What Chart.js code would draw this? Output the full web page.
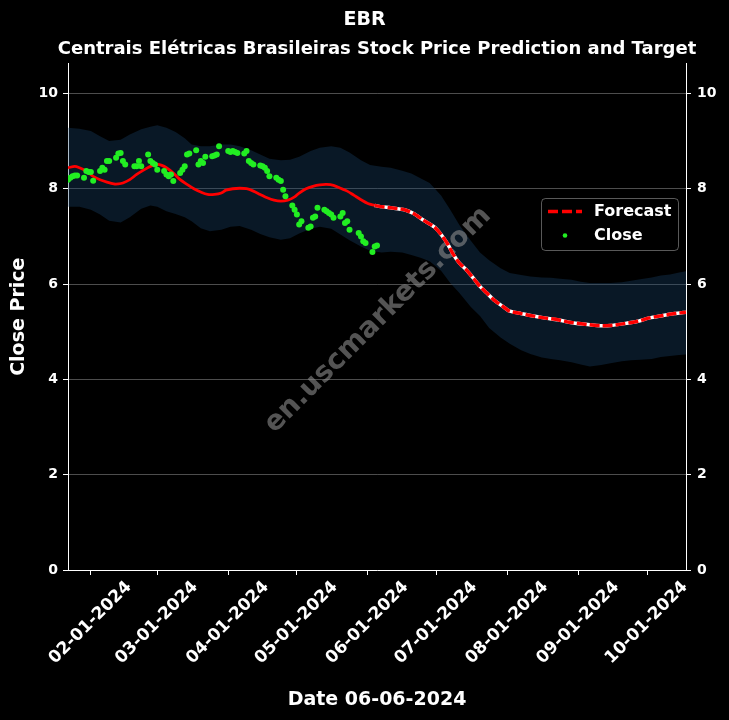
<!DOCTYPE html>
<html>
<head>
<meta charset="utf-8">
<script src="https://cdn.jsdelivr.net/npm/chart.js@4.4.1/dist/chart.umd.min.js"></script>
<style>
  html, body { margin: 0; padding: 0; background: #000; }
</style>
</head>
<body>
<canvas id="chart" width="729" height="720"></canvas>
<script>
// x axis tick labels (first of each month)
const monthTicks = ['02-01-2024', '03-01-2024', '04-01-2024', '05-01-2024', '06-01-2024',
                    '07-01-2024', '08-01-2024', '09-01-2024', '10-01-2024'];

// trading days of the close series
const firstClose = '2024-01-22';
const lastClose = '2024-06-05';
const holidays = ['2024-02-19', '2024-03-29', '2024-05-27'];

// daily close prices (one per trading day)
const closeValues = [
  8.19, 8.23, 8.26, 8.28, 8.28, 8.23, 8.37, 8.35, 8.35, 8.17,
  8.37, 8.44, 8.40, 8.58, 8.58, 8.65, 8.74, 8.75, 8.58, 8.51,
  8.47, 8.47, 8.58, 8.47, 8.72, 8.58, 8.54, 8.51, 8.40, 8.37,
  8.30, 8.26, 8.30, 8.16, 8.33, 8.40, 8.47, 8.72, 8.74, 8.81,
  8.51, 8.58, 8.54, 8.67, 8.68, 8.70, 8.72, 8.89, 8.79, 8.77,
  8.79, 8.77, 8.75, 8.74, 8.79, 8.58, 8.54, 8.51, 8.49, 8.47,
  8.44, 8.37, 8.26, 8.23, 8.19, 8.16, 7.98, 7.84, 7.65, 7.56,
  7.46, 7.25, 7.32, 7.18, 7.21, 7.39, 7.42, 7.60, 7.56, 7.53,
  7.49, 7.46, 7.39, 7.42, 7.49, 7.28, 7.32, 7.14, 7.07, 7.00,
  6.90, 6.86, 6.67, 6.79, 6.81
];

// model fit over the history (day of year, 0 = Jan 1)
const fitDays = [21, 24, 26, 29, 32, 35, 38, 41, 43, 45, 48, 51, 54, 57, 60, 62, 64, 67, 70, 73,
                 76, 79, 82, 85, 88, 90, 93, 96, 99, 102, 105, 108, 111, 114, 117, 120, 122, 125,
                 128, 131, 134, 137, 140, 143, 146, 149, 152, 155];
const fitValues = [8.44, 8.47, 8.44, 8.37, 8.26, 8.19, 8.14, 8.10, 8.10, 8.12, 8.19, 8.30, 8.39, 8.47,
                   8.51, 8.49, 8.44, 8.33, 8.19, 8.09, 8.00, 7.93, 7.88, 7.88, 7.91, 7.97, 8.00, 8.01,
                   8.00, 7.95, 7.88, 7.81, 7.76, 7.74, 7.76, 7.83, 7.91, 8.00, 8.05, 8.08, 8.09, 8.07,
                   8.01, 7.95, 7.86, 7.77, 7.69, 7.65];

// forecast
const forecastDays = [155, 157, 162, 168, 172, 176, 181, 184, 187, 189, 192, 195, 198, 201, 204, 207,
                      211, 214, 219, 223, 229, 235, 240, 246, 252, 258, 264, 270, 275, 281, 286, 291];
const forecastValues = [7.65, 7.63, 7.60, 7.56, 7.48, 7.35, 7.20, 7.04, 6.83, 6.65, 6.44, 6.30, 6.13,
                        5.95, 5.81, 5.67, 5.53, 5.43, 5.38, 5.34, 5.29, 5.25, 5.20, 5.16, 5.13, 5.13,
                        5.17, 5.22, 5.29, 5.34, 5.38, 5.41];

// uncertainty band
const bandDays = [21, 26, 31, 35, 39, 44, 48, 53, 57, 60, 64, 68, 72, 75, 79, 83, 88, 92, 96, 101,
                  105, 109, 114, 118, 122, 127, 131, 136, 140, 144, 149, 153, 158, 162, 167, 171,
                  175, 179, 184, 188, 192, 197, 201, 205, 210, 214, 219, 223, 228, 232, 236, 241,
                  245, 249, 254, 258, 263, 267, 271, 276, 280, 284, 288, 291];
const bandUpper = [9.28, 9.26, 9.21, 9.10, 9.00, 9.03, 9.14, 9.25, 9.30, 9.33, 9.28, 9.19, 9.06, 8.93,
                   8.89, 8.89, 8.93, 8.93, 8.89, 8.81, 8.72, 8.63, 8.60, 8.61, 8.67, 8.79, 8.86, 8.89,
                   8.86, 8.76, 8.60, 8.50, 8.46, 8.44, 8.38, 8.32, 8.22, 8.12, 7.86, 7.56, 7.24, 6.91,
                   6.66, 6.50, 6.33, 6.23, 6.19, 6.16, 6.14, 6.13, 6.11, 6.09, 6.05, 6.02, 6.02, 6.02,
                   6.04, 6.07, 6.10, 6.14, 6.18, 6.20, 6.24, 6.27];
const bandLower = [7.62, 7.62, 7.56, 7.46, 7.33, 7.29, 7.40, 7.58, 7.65, 7.62, 7.53, 7.47, 7.40, 7.32,
                   7.17, 7.11, 7.14, 7.20, 7.22, 7.14, 7.05, 6.98, 6.93, 6.96, 7.06, 7.16, 7.20, 7.16,
                   7.04, 6.92, 6.79, 6.70, 6.66, 6.68, 6.66, 6.61, 6.55, 6.48, 6.28, 6.02, 5.81, 5.52,
                   5.33, 5.08, 4.88, 4.75, 4.61, 4.53, 4.46, 4.43, 4.40, 4.36, 4.31, 4.27, 4.30, 4.34,
                   4.38, 4.40, 4.41, 4.43, 4.47, 4.49, 4.51, 4.52];

const yTicks = [0, 2, 4, 6, 8, 10];

const subtitleText = 'Centrais Elétricas Brasileiras Stock Price Prediction and Target';

// helpers
const toDay = (y, m, d) => (Date.UTC(y, m - 1, d) - Date.UTC(2024, 0, 1)) / 864e5;
const isoDay = s => { const [y, m, d] = s.split('-').map(Number); return toDay(y, m, d); };
const tickDays = monthTicks.map(s => { const [m, d, y] = s.split('-').map(Number); return toDay(y, m, d); });

const holidayDays = holidays.map(isoDay);
const closeDays = [];
for (let d = isoDay(firstClose); d <= isoDay(lastClose); d++) {
  const wd = new Date(Date.UTC(2024, 0, 1 + d)).getUTCDay();
  if (wd !== 0 && wd !== 6 && !holidayDays.includes(d)) closeDays.push(d);
}

const pts = (xs, ys) => xs.map((x, i) => ({ x: x, y: ys[i] }));

const FONT = 'DejaVu Sans';
const GREEN = '#22ee22';

const watermark = {
  id: 'watermark',
  beforeDatasetsDraw(chart) {
    const ctx = chart.ctx;
    ctx.save();
    ctx.translate(378, 320);
    ctx.rotate(-Math.PI / 4);
    ctx.font = 'bold 28px "' + FONT + '"';
    ctx.fillStyle = 'rgba(140,140,140,0.6)';
    ctx.textAlign = 'center';
    ctx.textBaseline = 'middle';
    ctx.fillText('en.uscmarkets.com', 0, 0);
    ctx.restore();
  }
};

// subtitle is centred over the plot area, legend sits inside it
const overlay = {
  id: 'overlay',
  afterDraw(chart) {
    const ctx = chart.ctx;
    const a = chart.chartArea;
    ctx.save();
    ctx.fillStyle = 'white';
    ctx.font = 'bold 18px "' + FONT + '"';
    ctx.textAlign = 'center';
    ctx.textBaseline = 'middle';
    ctx.fillText(subtitleText, (a.left + a.right) / 2, 49);

    const x0 = a.right - 145, y0 = 198.5;
    ctx.textAlign = 'left';
    ctx.fillStyle = 'rgba(0,0,0,0.85)';
    ctx.strokeStyle = 'rgba(255,255,255,0.35)';
    ctx.lineWidth = 1;
    ctx.beginPath();
    ctx.roundRect(x0 + 0.5, y0, 137, 52, 4);
    ctx.fill();
    ctx.stroke();
    ctx.strokeStyle = 'red';
    ctx.lineWidth = 3.5;
    ctx.setLineDash([10, 4]);
    ctx.beginPath();
    ctx.moveTo(x0 + 7, y0 + 13);
    ctx.lineTo(x0 + 41, y0 + 13);
    ctx.stroke();
    ctx.setLineDash([]);
    ctx.fillStyle = GREEN;
    ctx.beginPath();
    ctx.arc(x0 + 24, y0 + 37, 2.3, 0, Math.PI * 2);
    ctx.fill();
    ctx.fillStyle = 'white';
    ctx.font = 'bold 16px "' + FONT + '"';
    ctx.fillText('Forecast', x0 + 53, y0 + 13);
    ctx.fillText('Close', x0 + 53, y0 + 37);
    ctx.restore();
  }
};

new Chart(document.getElementById('chart'), {
  type: 'line',
  data: {
    datasets: [
      {
        label: 'upper',
        data: pts(bandDays, bandUpper),
        borderWidth: 0,
        pointRadius: 0,
        backgroundColor: 'rgba(25,70,110,0.35)',
        fill: '+1',
        order: 10
      },
      {
        label: 'lower',
        data: pts(bandDays, bandLower),
        borderWidth: 0,
        pointRadius: 0,
        fill: false,
        order: 11
      },
      {
        label: 'Fit',
        data: pts(fitDays, fitValues),
        borderColor: 'red',
        borderWidth: 2.8,
        pointRadius: 0,
        tension: 0.3,
        order: 3
      },
      {
        label: 'Forecast base',
        data: pts(forecastDays, forecastValues),
        borderColor: 'white',
        borderWidth: 3.5,
        pointRadius: 0,
        tension: 0.2,
        order: 2
      },
      {
        label: 'Forecast',
        data: pts(forecastDays, forecastValues),
        borderColor: 'red',
        borderWidth: 3.5,
        borderDash: [10, 3],
        pointRadius: 0,
        tension: 0.2,
        order: 1
      },
      {
        label: 'Close',
        data: pts(closeDays, closeValues),
        showLine: false,
        pointRadius: 3,
        pointBackgroundColor: GREEN,
        pointBorderWidth: 0,
        order: 0
      }
    ]
  },
  options: {
    responsive: false,
    animation: false,
    layout: { padding: 0 },
    plugins: {
      legend: { display: false },
      tooltip: { enabled: false },
      filler: { drawTime: 'beforeDatasetsDraw' },
      title: {
        display: true,
        text: 'EBR',
        color: 'white',
        font: { family: FONT, size: 19, weight: 'bold' },
        padding: { top: 9, bottom: 8 }
      },
      subtitle: {
        // reserves the space; the text itself is drawn by the overlay plugin
        display: true,
        text: subtitleText,
        color: 'rgba(0,0,0,0)',
        font: { family: FONT, size: 18, weight: 'bold' },
        padding: { top: 0, bottom: 2 }
      }
    },
    scales: {
      x: {
        type: 'linear',
        min: 21,
        max: 291,
        afterBuildTicks: axis => { axis.ticks = tickDays.map(v => ({ value: v })); },
        afterFit: scale => { scale.height = 150; },
        ticks: {
          callback: (v, i) => monthTicks[i],
          color: 'white',
          font: { family: FONT, size: 17, weight: 'bold' },
          minRotation: 45,
          maxRotation: 45,
          autoSkip: false,
          labelOffset: 38,
          padding: 2
        },
        grid: { drawOnChartArea: false, color: 'white', tickLength: 5 },
        border: { color: 'white', width: 1 },
        title: {
          display: true,
          text: 'Date 06-06-2024',
          color: 'white',
          font: { family: FONT, size: 19, weight: 'bold' },
          padding: { top: 0, bottom: 9 }
        }
      },
      y: {
        position: 'left',
        min: 0,
        max: 10.63,
        afterBuildTicks: axis => { axis.ticks = yTicks.map(v => ({ value: v })); },
        afterFit: scale => { scale.width = 68; },
        ticks: {
          color: 'white',
          font: { family: FONT, size: 14, weight: 'bold' },
          padding: 5
        },
        grid: { color: 'rgba(255,255,255,0.3)', tickColor: 'white', tickLength: 5 },
        border: { color: 'white', width: 1 },
        title: {
          display: true,
          text: 'Close Price',
          color: 'white',
          font: { family: FONT, size: 19, weight: 'bold' },
          padding: { top: 8, bottom: 0 }
        }
      },
      y2: {
        position: 'right',
        min: 0,
        max: 10.63,
        afterBuildTicks: axis => { axis.ticks = yTicks.map(v => ({ value: v })); },
        afterFit: scale => { scale.width = 43; },
        ticks: {
          color: 'white',
          font: { family: FONT, size: 14, weight: 'bold' },
          padding: 6
        },
        grid: { drawOnChartArea: false, tickColor: 'white', tickLength: 5 },
        border: { color: 'white', width: 1 }
      }
    }
  },
  plugins: [watermark, overlay]
});
</script>
</body>
</html>
